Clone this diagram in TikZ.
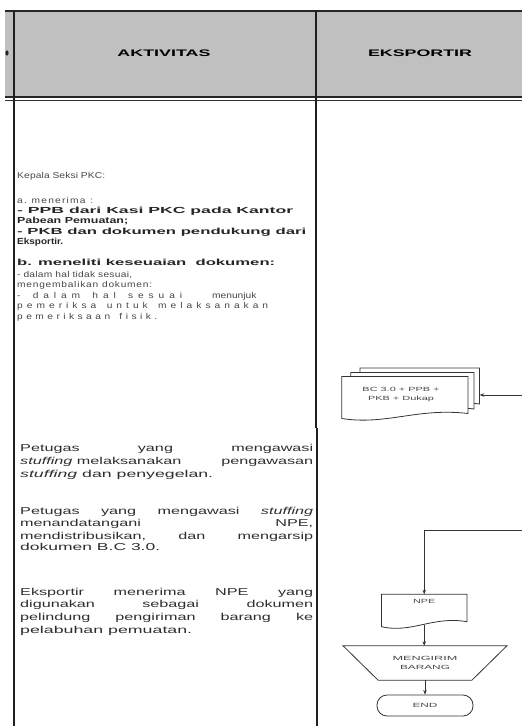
\documentclass[tikz,border=0pt]{standalone}
\usepackage{fontspec}
\setmainfont{Liberation Sans}
\newfontfamily\widefont[FakeStretch=1.62]{Liberation Sans}
\newfontfamily\lightfont[FakeStretch=1.2]{Liberation Sans}
\usepackage{graphicx}
\usetikzlibrary{arrows.meta,calc}
\definecolor{hdrgray}{HTML}{C0C0C0}
\newcommand\fitw[2]{\resizebox{#1pt}{\height}{#2}}
\newcommand\jl[1]{\hbox to 293pt{#1}}
\ExplSyntaxOn
\tl_new:N \l_rs_tl
\cs_new:Npn \rsspace { \hskip 0.28em \relax }
\NewDocumentCommand \trk { m m }
  {
    \tl_set:Nn \l_rs_tl { #2 }
    \tl_replace_all:Nnn \l_rs_tl { ~ } { \rsspace }
    \hbox_to_wd:nn { #1 pt }
      { \tl_map_inline:Nn \l_rs_tl { ##1 \hfil } \unskip }
  }
\ExplSyntaxOff
\begin{document}
\begin{tikzpicture}[x=1pt,y=-1pt,
  tbl/.style={line width=2pt, draw=black!88},
  ln/.style={line width=0.8pt, draw=black!80},
  arr/.style={ln, -{Stealth[length=4.5pt,width=3.5pt]}},
  upd/.style={anchor=base west, inner sep=0pt, font=\bfseries\fontsize{8.8}{10}\selectfont, text=black!85},
  upl/.style={anchor=base west, inner sep=0pt, font=\lightfont\fontsize{8.5}{10}\selectfont, text=black!72},
  lo/.style={anchor=base west, inner sep=0pt, font=\widefont\fontsize{10}{12}\selectfont, text=black!82},
  hdr/.style={inner sep=0pt, font=\bfseries\fontsize{9.5}{11}\selectfont, text=black},
  fc/.style={inner sep=0pt, font=\fontsize{6}{8.4}\selectfont, text=black!72},
  box/.style={draw=none, inner sep=0pt},
  shp/.style={ln, fill=white}
]
\useasboundingbox (0,0) rectangle (522,726);
\fill[white] (0,0) rectangle (522,726);
% header band
\fill[hdrgray] (5,11) rectangle (522,97);
\draw[line width=1.3pt, black!85] (5,11) -- (522,11);
\draw[line width=1.4pt, black!85] (5,96.8) -- (522,96.8);
\draw[line width=1pt, black!80] (5,100) -- (522,100);
\draw[tbl] (13.8,11) -- (13.8,726);
\draw[tbl] (315.5,11) -- (315.5,428);
\draw[tbl, line width=2.3pt] (317.3,428) -- (317.3,726);
\fill[black!85] (7,53) ellipse (1.6pt and 2.6pt);

\node[hdr] (hakt) at (164,53) {\fitw{93}{AKTIVITAS}};
\node[hdr] (heks) at (420,53) {\fitw{104}{EKSPORTIR}};

% upper activity text
\node[upl] (t1) at (17,178.7) {\trk{88}{Kepala Seksi PKC:}};
\node[upl] (t2) at (17,203) {\trk{76}{a. menerima :}};
\node[upd] (t3) at (17,213) {\fitw{276}{- PPB dari Kasi PKC pada Kantor}};
\node[upd] (t4) at (17,223.7) {\fitw{111}{Pabean Pemuatan;}};
\node[upd] (t5) at (17,234) {\fitw{289}{- PKB dan dokumen pendukung dari}};
\node[upd] (t6) at (17,244.7) {\fitw{46}{Eksportir.}};
\node[upd] (t7) at (17,265.7) {\fitw{258}{b. meneliti keseuaian\ \ dokumen:}};
\node[upl] (t8) at (17,277) {\trk{115}{- dalam hal tidak sesuai,}};
\node[upl] (t9) at (17,287.3) {\trk{135}{mengembalikan dokumen:}};
\node[upl] (t10) at (17,298) {\hbox to 238pt{\trk{165}{- dalam hal sesuai}\hfill\trk{43}{menunjuk}}};
\node[upl] (t11) at (17,308.7) {\trk{251}{pemeriksa untuk melaksanakan}};
\node[upl] (t12) at (17,319) {\trk{140}{pemeriksaan fisik.}};

% lower activity text
\node[lo] (u1) at (20,451.5) {\jl{Petugas\hfill yang\hfill mengawasi}};
\node[lo] (u2) at (20,464.5) {\jl{\textit{stuffing} melaksanakan\hfill pengawasan}};
\node[lo] (u3) at (20,477) {\fitw{193}{\textit{stuffing} dan penyegelan.}};
\node[lo] (u4) at (20,514.5) {\jl{Petugas\hfill yang\hfill mengawasi\hfill \textit{stuffing}}};
\node[lo] (u5) at (20,526.5) {\jl{menandatangani\hfill NPE,}};
\node[lo] (u6) at (20,539) {\jl{mendistribusikan,\hfill dan\hfill mengarsip}};
\node[lo] (u7) at (20,550.5) {\fitw{140}{dokumen B.C 3.0.}};
\node[lo] (u8) at (20,595) {\jl{Eksportir\hfill menerima\hfill NPE\hfill yang}};
\node[lo] (u9) at (20,607.5) {\jl{digunakan\hfill sebagai\hfill dokumen}};
\node[lo] (u10) at (20,620.5) {\jl{pelindung\hfill pengiriman\hfill barang\hfill ke}};
\node[lo] (u11) at (20,633.5) {\fitw{172}{pelabuhan pemuatan.}};

% multi-document
\draw[shp] (360,368) -- (479.5,368) -- (479.5,404) .. controls (435,398) and (400,416) .. (360,410) -- cycle;
\draw[shp] (350.7,372.5) -- (474,372.5) -- (474,409) .. controls (430,403) and (395,421) .. (350.7,415) -- cycle;
\draw[shp] (341.7,376.5) -- (468,376.5) -- (468,413.5) .. controls (417.5,407.5) and (386,425.5) .. (341.7,418.5) -- cycle;
\node[box, minimum width=119.5pt, minimum height=40pt] (docback) at (419.75,388) {};
\node[fc, align=center] (doctxt) at (401,394.5) {\fitw{77}{BC 3.0 + PPB +}\\\fitw{66}{PKB + Dukap}};
\coordinate (inA) at (522,395);
\draw[arr] (inA) -- (inA -| docback.east);

% NPE document
\node[box, minimum width=85pt, minimum height=30pt] (npe) at (424.2,609.5) {};
\draw[shp] (npe.north west) -- (npe.north east) -- ($(npe.south east)+(0,-3)$) .. controls ($(npe.south east)+(-34,-9)$) and ($(npe.south west)+(30,9)$) .. ($(npe.south west)+(0,2)$) -- cycle;
\node[fc] (npelbl) at (424.2,601) {\fitw{22}{NPE}};
\coordinate (inB) at (522,530);
\draw[arr] (inB) -| (npe.north);

% manual operation
\node[fc, align=center, minimum width=163.4pt, minimum height=34pt] (send) at (425,663) {\fitw{65}{MENGIRIM}\\\fitw{50}{BARANG}};
\draw[ln] (send.north west) -- (send.north east) -- ($(send.south east)+(-35,0)$) -- ($(send.south west)+(35,0)$) -- cycle;
\draw[arr] (npe.south) -- (npe.south |- send.north);

% terminator
\node[fc, draw=black!80, line width=0.8pt, rounded corners=10pt, minimum width=96pt, minimum height=21pt] (endn) at (425,705.5) {\fitw{25}{END}};
\draw[arr] (send.south) -- (endn.north);
\end{tikzpicture}
\end{document}
